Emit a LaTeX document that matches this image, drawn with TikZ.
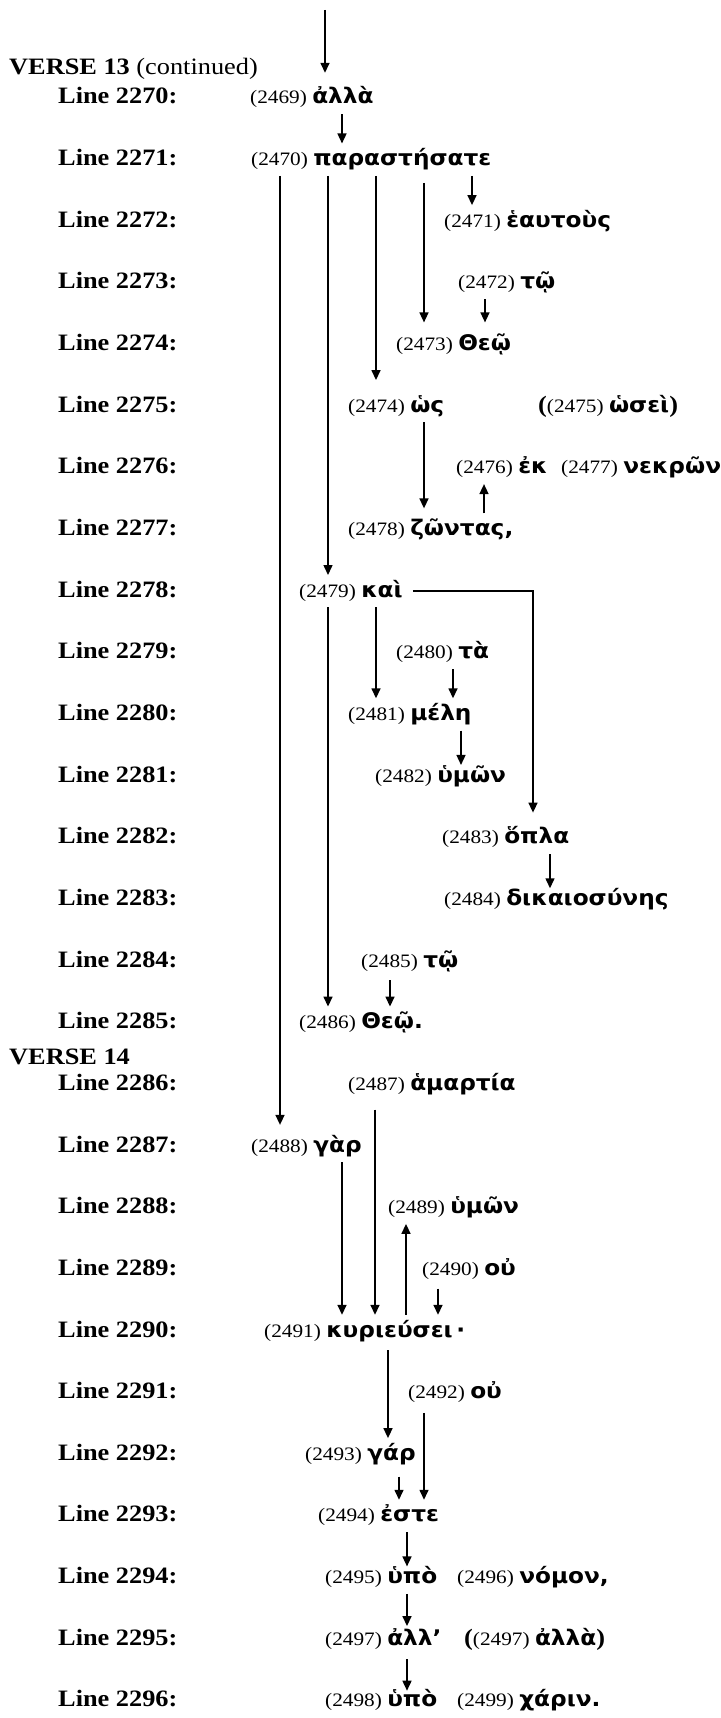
\documentclass[tikz,border=0pt]{standalone}
\usepackage{fontspec}
\setmainfont{Liberation Serif}
\newfontfamily\tnr[FakeStretch=1.12]{Liberation Serif}
\newfontfamily\gkf[FakeStretch=1.08]{DejaVu Sans Bold}
\usetikzlibrary{arrows.meta,calc}
\newcommand\gk[1]{{\gkf\fontsize{21.5}{26}\selectfont #1}}
\newcommand\bp[1]{{\tnr\bfseries\fontsize{23.5}{26}\selectfont #1}}
\tikzset{
 lbl/.style={anchor=base west, inner sep=0pt, font=\tnr\bfseries\fontsize{23.5}{26}\selectfont},
 wd/.style={anchor=base west, inner sep=0pt, text height=22pt, text depth=10pt, font=\tnr\fontsize{19}{22}\selectfont},
 arr/.style={line width=1.5pt, -{Triangle[length=10pt,width=9pt]}},
}
\begin{document}
\begin{tikzpicture}[x=1pt,y=-1pt]
\useasboundingbox (0,0) rectangle (720,1718);
% headings
\node[lbl] (v13) at (9,75) {VERSE 13 {\mdseries(continued)}};
\node[lbl] (v14) at (9,1064) {VERSE 14};
\foreach \i in {0,...,26} {
  \pgfmathtruncatemacro\nm{2270+\i}
  \node[lbl] (l\nm) at (58,{104+61.65*\i}) {Line \nm:};
}
% words
\node[wd] (w2469) at (250,104)     {(2469) \gk{ἀλλὰ}};
\node[wd] (w2470) at (251,165.65)  {(2470) \gk{παραστήσατε}};
\node[wd] (w2471) at (444,227.3)   {(2471) \gk{ἑαυτοὺς}};
\node[wd] (w2472) at (458,288.95)  {(2472) \gk{τῷ}};
\node[wd] (w2473) at (396,350.6)   {(2473) \gk{Θεῷ}};
\node[wd] (w2474) at (348,412.25)  {(2474) \gk{ὡς}};
\node[wd] (w2475) at (538,412.25)  {\bp{(}(2475) \gk{ὡσεὶ}\bp{)}};
\node[wd] (w2476) at (456,473.9)   {(2476) \gk{ἐκ}};
\node[wd] (w2477) at (561,473.9)   {(2477) \gk{νεκρῶν}};
\node[wd] (w2478) at (348,535.55)  {(2478) \gk{ζῶντας,}};
\node[wd] (w2479) at (299,597.2)   {(2479) \gk{καὶ}};
\node[wd] (w2480) at (396,658.85)  {(2480) \gk{τὰ}};
\node[wd] (w2481) at (348,720.5)   {(2481) \gk{μέλη}};
\node[wd] (w2482) at (375,782.15)  {(2482) \gk{ὑμῶν}};
\node[wd] (w2483) at (442,843.8)   {(2483) \gk{ὅπλα}};
\node[wd] (w2484) at (444,905.45)  {(2484) \gk{δικαιοσύνης}};
\node[wd] (w2485) at (361,967.1)   {(2485) \gk{τῷ}};
\node[wd] (w2486) at (299,1028.75) {(2486) \gk{Θεῷ.}};
\node[wd] (w2487) at (348,1090.4)  {(2487) \gk{ἁμαρτία}};
\node[wd] (w2488) at (251,1152.05) {(2488) \gk{γὰρ}};
\node[wd] (w2489) at (388,1213.7)  {(2489) \gk{ὑμῶν}};
\node[wd] (w2490) at (422,1275.35) {(2490) \gk{οὐ}};
\node[wd] (w2491) at (264,1337)    {(2491) \gk{κυριεύσει\,·}};
\node[wd] (w2492) at (408,1398.65) {(2492) \gk{οὐ}};
\node[wd] (w2493) at (305,1460.3)  {(2493) \gk{γάρ}};
\node[wd] (w2494) at (318,1521.95) {(2494) \gk{ἐστε}};
\node[wd] (w2495) at (325,1583.6)  {(2495) \gk{ὑπὸ}};
\node[wd] (w2496) at (457,1583.6)  {(2496) \gk{νόμον,}};
\node[wd] (w2497) at (325,1645.25) {(2497) \gk{ἀλλ’}};
\node[wd] (w2497b) at (464,1645.25) {\bp{(}(2497) \gk{ἀλλὰ}\bp{)}};
\node[wd] (w2498) at (325,1706.9)  {(2498) \gk{ὑπὸ}};
\node[wd] (w2499) at (457,1706.9)  {(2499) \gk{χάριν.}};
% connectors
\coordinate (top) at (325,10);
\draw[arr, shorten >=9pt] (top) -- (325,0 |- w2469.north);
\draw[arr] (342,0 |- w2469.south) -- (342,0 |- w2470.north);
\draw[arr, shorten >=5pt] (280,0 |- w2470.south) -- (280,0 |- w2488.north);
\draw[arr] (328,0 |- w2470.south) -- (328,0 |- w2479.north);
\draw[arr, shorten >=10pt] (376,0 |- w2470.south) -- (376,0 |- w2474.north);
\draw[arr, shorten >=6pt, shorten <=7pt] (424,0 |- w2470.south) -- (424,0 |- w2473.north);
\draw[arr] (472,0 |- w2470.south) -- (472,0 |- w2471.north);
\draw[arr, shorten >=6pt] (485,0 |- w2472.south) -- (485,0 |- w2473.north);
\draw[arr, shorten >=5pt] (424,0 |- w2474.south) -- (424,0 |- w2478.north);
\draw[arr] (484,0 |- w2478.north) -- (484,0 |- w2476.south);
\draw[arr] (328,0 |- w2479.south) -- (328,0 |- w2486.north);
\draw[arr] (376,0 |- w2479.south) -- (376,0 |- w2481.north);
\draw[arr, shorten >=9pt] ($(w2479.base east)+(10,-6)$) -| (533,0 |- w2483.north);
\draw[arr] (453,0 |- w2480.south) -- (453,0 |- w2481.north);
\draw[arr, shorten >=-5pt] (461,0 |- w2481.south) -- (461,0 |- w2482.north);
\draw[arr, shorten >=-5pt] (550,0 |- w2483.south) -- (550,0 |- w2484.north);
\draw[arr, shorten <=3pt] (390,0 |- w2485.south) -- (390,0 |- w2486.north);
\draw[arr, shorten <=9pt] (375,0 |- w2487.south) -- (375,0 |- w2491.north);
\draw[arr] (342,0 |- w2488.south) -- (342,0 |- w2491.north);
\draw[arr] (406,0 |- w2491.north) -- (406,0 |- w2489.south);
\draw[arr, shorten <=3pt] (438,0 |- w2490.south) -- (438,0 |- w2491.north);
\draw[arr, shorten <=3pt] (388,0 |- w2491.south) -- (388,0 |- w2493.north);
\draw[arr, shorten <=4pt] (424,0 |- w2492.south) -- (424,0 |- w2494.north);
\draw[arr, shorten <=6pt] (399,0 |- w2493.south) -- (399,0 |- w2494.north);
\draw[arr, shorten >=-5pt] (407,0 |- w2494.south) -- (407,0 |- w2495.north);
\draw[arr, shorten >=-3pt] (407,0 |- w2495.south) -- (407,0 |- w2497.north);
\draw[arr, shorten <=4pt, shorten >=-6pt] (407,0 |- w2497.south) -- (407,0 |- w2498.north);
\end{tikzpicture}
\end{document}
